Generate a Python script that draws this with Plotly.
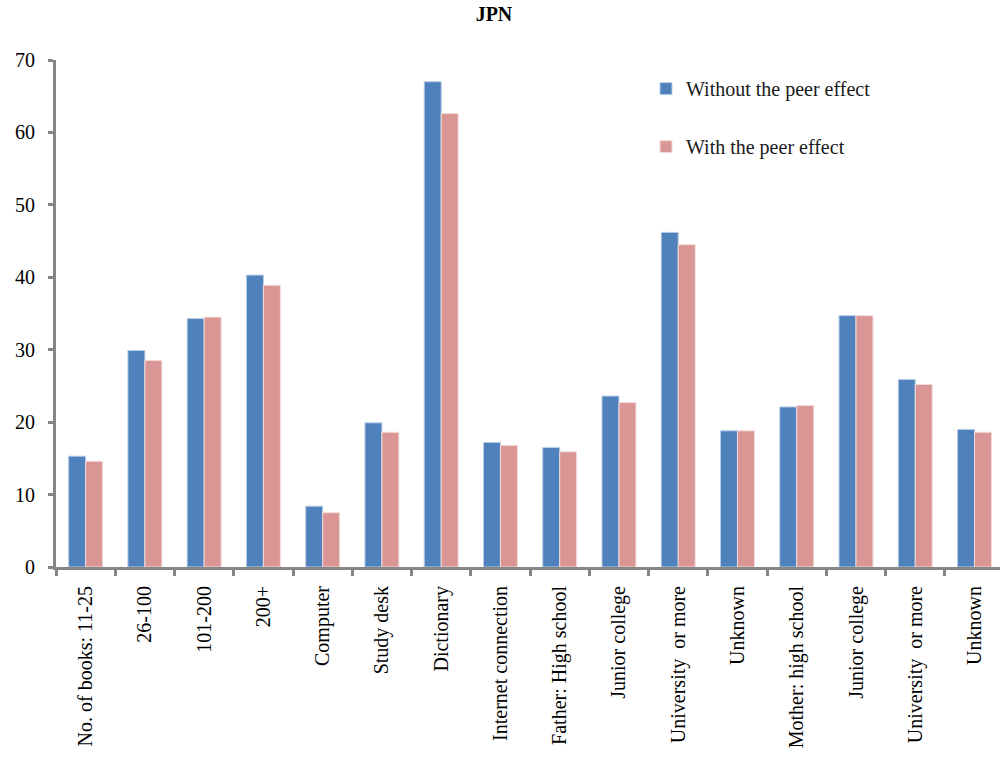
import plotly.graph_objects as go

categories = ["No. of books: 11-25", "26-100", "101-200", "200+", "Computer", "Study desk",
              "Dictionary", "Internet connection", "Father: High school", "Junior college",
              "University  or more", "Unknown", "Mother: high school", "Junior college",
              "University  or more", "Unknown"]
without_peer = [15.3, 29.9, 34.3, 40.3, 8.4, 19.9, 67.0, 17.2, 16.5, 23.6, 46.2, 18.8, 22.1, 34.7, 25.9, 19.0]
with_peer = [14.6, 28.5, 34.5, 38.9, 7.5, 18.6, 62.6, 16.8, 15.9, 22.7, 44.5, 18.8, 22.3, 34.7, 25.2, 18.6]
y_ticks = [0, 10, 20, 30, 40, 50, 60, 70]

xpos = list(range(len(categories)))
serif = "Liberation Serif, Times New Roman, serif"

fig = go.Figure()
fig.add_trace(go.Bar(x=xpos, y=without_peer, name="Without the peer effect",
                     marker=dict(color="#4F81BD", line=dict(color="#B9CDE5", width=1)),
                     legendgroup="a"))
fig.add_trace(go.Bar(x=xpos, y=with_peer, name="With the peer effect",
                     marker=dict(color="#D99694", line=dict(color="#F2DCDB", width=1)),
                     legendgroup="b"))

fig.update_layout(
    width=1000, height=765,
    paper_bgcolor="white", plot_bgcolor="white",
    margin=dict(l=56, r=0, t=60, b=198),
    barmode="group", bargap=0.427, bargroupgap=0,
    title=dict(text="<b>JPN</b>", x=0.494, xref="container", xanchor="center",
               y=0.982, yref="container", yanchor="middle",
               font=dict(family=serif, size=20, color="black")),
    legend=dict(x=0.625, y=0.982, xanchor="left", yanchor="top",
                font=dict(family=serif, size=20, color="#1a1a1a"),
                traceorder="grouped", tracegroupgap=29,
                itemwidth=30, bgcolor="rgba(0,0,0,0)"),
    showlegend=True,
)
fig.update_xaxes(
    range=[-0.5, len(categories) - 0.57],
    tickmode="array", tickvals=xpos, ticktext=categories,
    tickangle=-90, ticks="", ticklabelstandoff=8,
    tickfont=dict(family=serif, size=20, color="black"),
    showline=True, linecolor="#868686", linewidth=3,
    showgrid=False, zeroline=False,
    minor=dict(tickmode="linear", tick0=-0.5, dtick=1, ticks="outside",
               ticklen=6, tickwidth=3, tickcolor="#868686", showgrid=False),
)
fig.update_yaxes(
    range=[0, 70], tickmode="array", tickvals=y_ticks,
    ticks="outside", ticklen=5, tickwidth=3, tickcolor="#868686",
    ticklabelstandoff=9,
    tickfont=dict(family=serif, size=20, color="black"),
    showline=True, linecolor="#868686", linewidth=3,
    showgrid=False, zeroline=False,
)

fig.write_html("out.html")
